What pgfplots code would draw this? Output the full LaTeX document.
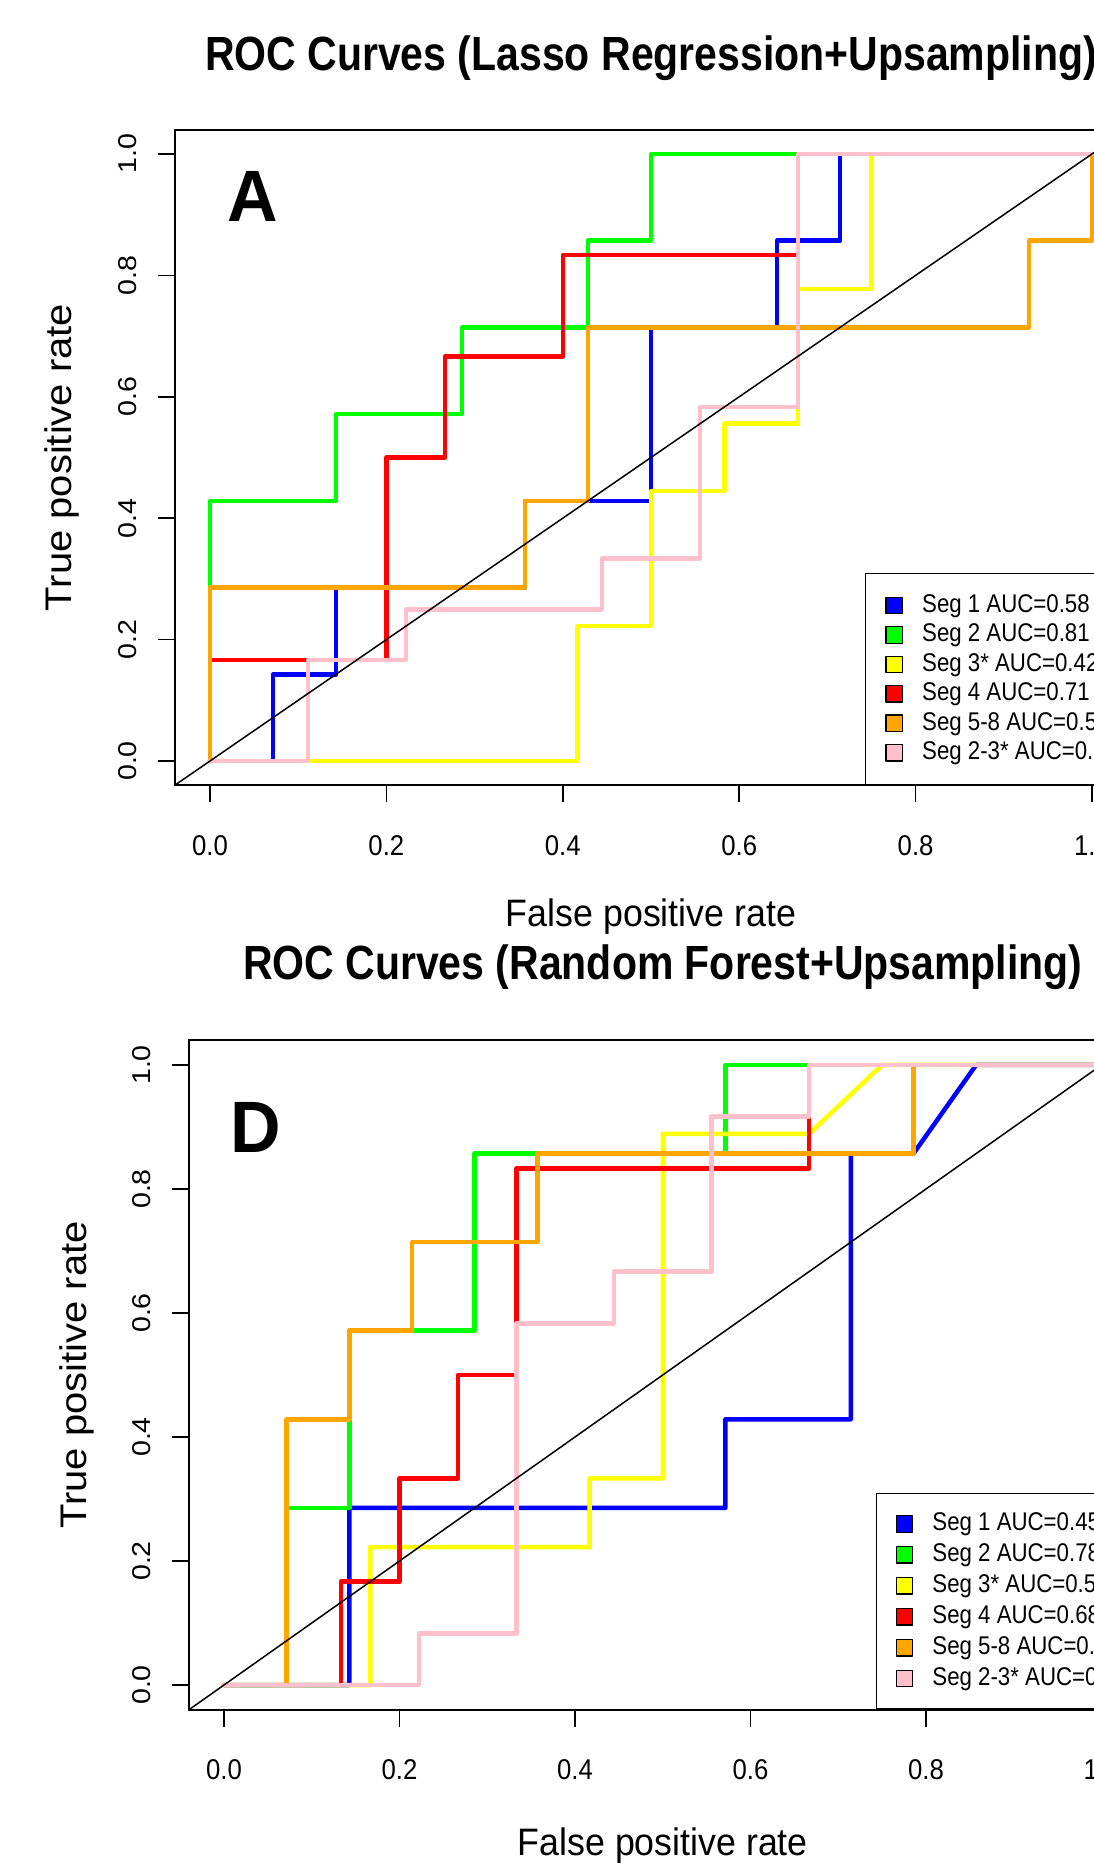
\documentclass[border=0pt]{standalone}
\usepackage{pgfplots}
\pgfplotsset{compat=1.18}
\usepackage{fontspec}
\setmainfont{Liberation Sans}

\definecolor{rblue}{RGB}{0,0,255}
\definecolor{rgreen}{RGB}{0,255,0}
\definecolor{ryellow}{RGB}{255,255,0}
\definecolor{rred}{RGB}{255,0,0}
\definecolor{rorange}{RGB}{255,165,0}
\definecolor{rpink}{RGB}{255,192,203}

\pgfplotsset{
  sq/.style={legend image code/.code={%
    \draw[fill=#1,draw=black,line width=0.5pt] (0pt,-3.3pt) rectangle (6.6pt,3.3pt);}},
  roc/.style={
    scale only axis,
    xmin=-0.04, xmax=1.04, ymin=-0.04, ymax=1.04,
    xtick={0,0.2,0.4,0.6,0.8,1}, ytick={0,0.2,0.4,0.6,0.8,1},
    tick pos=left, tick align=outside, major tick length=6.8pt,
    axis line style={line width=0.7pt},
    every tick/.style={black, line width=0.7pt},
    /pgf/number format/fixed,
    /pgf/number format/fixed zerofill,
    /pgf/number format/precision=1,
    /pgf/number format/assume math mode=true,
    tick label style={font=\fontsize{10.3}{12}\selectfont},
    xticklabel style={anchor=base, inner sep=0pt, yshift=-21.1pt, yscale=1.11},
    yticklabel style={xshift=-8.4pt, rotate=90, xscale=1.11, anchor=base, inner sep=0pt},
    every axis title/.style={at={(0.5,1)}, anchor=base,
      font=\bfseries\fontsize{16.4}{19}\selectfont},
    every axis y label/.style={at={(axis description cs:-0.108,0.5)},
      rotate=90, xscale=1.08, anchor=base, font=\fontsize{14.8}{17}\selectfont},
    legend cell align=left,
    every axis plot/.append style={line width=1.8pt, line join=round, line cap=round},
  },
}

\begin{document}
\begin{tikzpicture}
\path[use as bounding box] (0,0) rectangle (437.2pt,747.6pt);

% top panel
\begin{axis}[roc,
  at={(69.88pt,433.48pt)}, anchor=south west,
  width=381.04pt, height=262.24pt,
  title={ROC Curves (Lasso Regression+Upsampling)},
  title style={yshift=23.5pt, yscale=1.17},
  xlabel={False positive rate}, ylabel={True positive rate},
  every axis x label/.style={at={(axis description cs:0.5,-0.216)}, anchor=base,
    yscale=1.07, font=\fontsize{14.3}{17}\selectfont},
  legend style={at={(rel axis cs:0.7243,0)}, anchor=south west,
    draw=black, line width=0.6pt, inner xsep=8pt, inner ysep=7.85pt,
    row sep=2pt, column sep=7.6pt,
    nodes={inner sep=0pt, text height=6.6pt, text depth=1.9pt, yscale=1.15},
    font=\fontsize{8.9}{10}\selectfont},
]
\addplot[rblue, sq=rblue] coordinates {(0,0) (0.0714,0) (0.0714,0.1429) (0.1429,0.1429) (0.1429,0.2857) (0.3571,0.2857) (0.3571,0.4286) (0.5,0.4286) (0.5,0.7143) (0.6429,0.7143) (0.6429,0.8571) (0.7143,0.8571) (0.7143,1) (1,1)};
\addlegendentry{Seg 1 AUC=0.58}
\addplot[rgreen, sq=rgreen] coordinates {(0,0) (0,0.4286) (0.1429,0.4286) (0.1429,0.5714) (0.2857,0.5714) (0.2857,0.7143) (0.4286,0.7143) (0.4286,0.8571) (0.5,0.8571) (0.5,1) (1,1)};
\addlegendentry{Seg 2 AUC=0.81}
\addplot[ryellow, sq=ryellow] coordinates {(0,0) (0.4167,0) (0.4167,0.2222) (0.5,0.2222) (0.5,0.4444) (0.5833,0.4444) (0.5833,0.5556) (0.6667,0.5556) (0.6667,0.7778) (0.75,0.7778) (0.75,1) (1,1)};
\addlegendentry{Seg 3* AUC=0.42}
\addplot[rred, sq=rred] coordinates {(0,0) (0,0.1667) (0.2,0.1667) (0.2,0.5) (0.2667,0.5) (0.2667,0.6667) (0.4,0.6667) (0.4,0.8333) (0.6667,0.8333) (0.6667,1) (1,1)};
\addlegendentry{Seg 4 AUC=0.71}
\addplot[rorange, sq=rorange] coordinates {(0,0) (0,0.2857) (0.3571,0.2857) (0.3571,0.4286) (0.4286,0.4286) (0.4286,0.7143) (0.9286,0.7143) (0.9286,0.8571) (1,0.8571) (1,1)};
\addlegendentry{Seg 5-8 AUC=0.55}
\addplot[rpink, sq=rpink] coordinates {(0,0) (0.1111,0) (0.1111,0.1667) (0.2222,0.1667) (0.2222,0.25) (0.4444,0.25) (0.4444,0.3333) (0.5556,0.3333) (0.5556,0.5833) (0.6667,0.5833) (0.6667,1) (1,1)};
\addlegendentry{Seg 2-3* AUC=0.51}
\addplot[black, line width=0.6pt, forget plot] coordinates {(-0.04,-0.04) (1.04,1.04)};
\node[anchor=base west, inner sep=0pt, yscale=1.04, font=\bfseries\fontsize{28}{30}\selectfont] at (rel axis cs:0.0549,0.8597) {A};
\end{axis}

% bottom panel
\begin{axis}[roc,
  at={(75.56pt,63.68pt)}, anchor=south west,
  width=379.08pt, height=267.84pt,
  title={ROC Curves (Random Forest+Upsampling)},
  title style={yshift=24.1pt, yscale=1.17},
  xlabel={False positive rate}, ylabel={True positive rate},
  every axis x label/.style={at={(axis description cs:0.5,-0.2183)}, anchor=base,
    yscale=1.07, font=\fontsize{14.3}{17}\selectfont},
  legend style={at={(rel axis cs:0.7247,0)}, anchor=south west,
    draw=black, line width=0.6pt, inner xsep=7.7pt, inner ysep=7.3pt,
    row sep=2.6pt, column sep=7.6pt,
    nodes={inner sep=0pt, text height=6.6pt, text depth=1.9pt, yscale=1.15},
    font=\fontsize{8.9}{10}\selectfont},
]
\addplot[rblue, sq=rblue] coordinates {(0,0) (0.1429,0) (0.1429,0.2857) (0.5714,0.2857) (0.5714,0.4286) (0.7143,0.4286) (0.7143,0.8571) (0.7857,0.8571) (0.8571,1) (1,1)};
\addlegendentry{Seg 1 AUC=0.45}
\addplot[rgreen, sq=rgreen] coordinates {(0,0) (0.0714,0) (0.0714,0.2857) (0.1429,0.2857) (0.1429,0.5714) (0.2857,0.5714) (0.2857,0.8571) (0.5714,0.8571) (0.5714,1) (1,1)};
\addlegendentry{Seg 2 AUC=0.78}
\addplot[ryellow, sq=ryellow] coordinates {(0,0) (0.1667,0) (0.1667,0.2222) (0.4167,0.2222) (0.4167,0.3333) (0.5,0.3333) (0.5,0.8889) (0.6667,0.8889) (0.75,1) (1,1)};
\addlegendentry{Seg 3* AUC=0.56}
\addplot[rred, sq=rred] coordinates {(0,0) (0.1333,0) (0.1333,0.1667) (0.2,0.1667) (0.2,0.3333) (0.2667,0.3333) (0.2667,0.5) (0.3333,0.5) (0.3333,0.8333) (0.6667,0.8333) (0.6667,1) (1,1)};
\addlegendentry{Seg 4 AUC=0.68}
\addplot[rorange, sq=rorange] coordinates {(0,0) (0.0714,0) (0.0714,0.4286) (0.1429,0.4286) (0.1429,0.5714) (0.2143,0.5714) (0.2143,0.7143) (0.3571,0.7143) (0.3571,0.8571) (0.7857,0.8571) (0.7857,1) (1,1)};
\addlegendentry{Seg 5-8 AUC=0.76}
\addplot[rpink, sq=rpink] coordinates {(0,0) (0.2222,0) (0.2222,0.0833) (0.3333,0.0833) (0.3333,0.5833) (0.4444,0.5833) (0.4444,0.6667) (0.5556,0.6667) (0.5556,0.9167) (0.6667,0.9167) (0.6667,1) (1,1)};
\addlegendentry{Seg 2-3* AUC=0.58}
\addplot[black, line width=0.6pt, forget plot] coordinates {(-0.04,-0.04) (1.04,1.04)};
\node[anchor=base west, inner sep=0pt, yscale=1.04, font=\bfseries\fontsize{28}{30}\selectfont] at (rel axis cs:0.0434,0.833) {D};
\end{axis}
\end{tikzpicture}
\end{document}
